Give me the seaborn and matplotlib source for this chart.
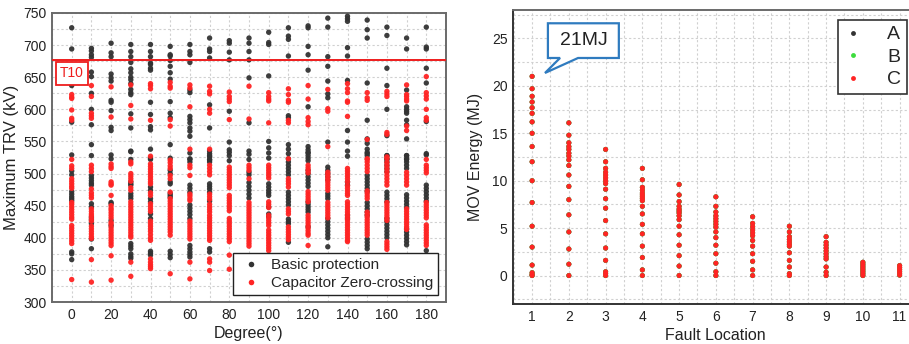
import matplotlib
matplotlib.use("Agg")
import matplotlib.pyplot as plt
import pandas as pd
import seaborn as sns
from matplotlib.ticker import MultipleLocator
from matplotlib.lines import Line2D
from matplotlib.patches import Polygon

# ---------------- data: left panel (Maximum TRV vs switching degree) ----------------
degrees = [0, 10, 20, 30, 40, 50, 60, 70, 80, 90, 100, 110, 120, 130, 140, 150, 160, 170, 180]
case_labels = ["Basic protection", "Capacitor Zero-crossing"]

basic_trv = [
    [727, 694, 637, 580, 529, 504, 498, 472, 468, 464, 461, 458, 378, 375, 366],
    [695, 691, 685, 681, 658, 651, 625, 600, 576, 545, 528, 497, 493, 489, 485, 482, 453, 448, 432, 428, 422, 398, 383],
    [703, 688, 682, 655, 649, 644, 614, 611, 598, 572, 567, 529, 523, 455, 453, 427, 419],
    [701, 690, 682, 673, 663, 657, 650, 646, 640, 631, 626, 623, 593, 571, 535, 534, 522, 487, 484, 482, 469, 465, 461, 391, 387, 383, 375, 371, 368],
    [701, 690, 682, 672, 670, 664, 661, 611, 592, 573, 568, 538, 524, 522, 479, 474, 461, 456, 437, 430, 379, 376, 373],
    [698, 685, 683, 676, 667, 657, 647, 612, 594, 587, 545, 524, 505, 500, 487, 484, 469, 466, 463, 379, 374, 369],
    [701, 690, 685, 673, 630, 626, 589, 584, 579, 571, 566, 558, 532, 523, 522, 518, 482, 477, 471, 451, 446, 441, 436, 430, 388, 383, 378, 374, 370],
    [711, 694, 690, 680, 607, 571, 535, 531, 528, 526, 522, 521, 518, 484, 480, 476, 471, 457, 383, 378],
    [707, 703, 689, 677, 597, 549, 537, 533, 528, 520],
    [711, 703, 690, 677, 649, 579, 535, 530, 522, 502, 498, 486, 480, 474, 468, 462],
    [720, 704, 701, 652, 550, 540, 532, 524, 484, 479, 474, 470, 466, 448, 437, 433],
    [727, 714, 709, 683, 590, 587, 545, 538, 531, 523, 518, 513, 508, 503, 498, 471, 466, 461, 456, 451, 429, 425, 422, 393],
    [730, 727, 698, 685, 661, 604, 542, 537, 533, 532, 528, 524, 520, 505, 500, 495, 490, 485, 480, 456, 452, 448, 444, 440, 417],
    [742, 728, 682, 667, 644, 624, 618, 549, 510, 505, 500, 495, 490, 469, 465, 461, 430, 425, 420, 415, 410, 405, 400, 386],
    [745, 741, 737, 696, 683, 645, 567, 549, 535, 527, 487, 482, 435, 430],
    [739, 724, 711, 641, 583, 554, 547, 538, 533, 531, 528, 497, 492, 487, 482, 477, 472, 455, 450, 445, 440, 435, 398, 393, 388, 383],
    [728, 715, 664, 637, 600, 559, 528, 528, 523, 522, 518, 513, 508, 503, 471, 466, 461, 456, 430, 425, 420, 415, 410, 405, 400],
    [711, 694, 630, 604, 600, 597, 594, 583, 576, 554, 528, 528, 523, 522, 518, 513, 508, 467, 462, 457, 452, 447, 414, 409, 404, 399, 394, 389],
    [728, 697, 694, 664, 641, 581, 531, 529, 482, 477, 472, 467, 462, 457, 380],
]

capzc_trv = [
    [623, 619, 617, 599, 586, 583, 522, 512, 508, 492, 488, 484, 480, 477, 455, 452, 448, 444, 440, 436, 432, 429, 419, 415, 411, 407, 403, 399, 395, 391, 335],
    [637, 620, 594, 590, 586, 513, 508, 503, 476, 470, 466, 462, 445, 441, 437, 434, 430, 426, 418, 414, 410, 406, 402, 399, 366, 331],
    [635, 588, 515, 511, 508, 487, 484, 482, 466, 450, 446, 443, 439, 435, 431, 424, 421, 416, 412, 408, 404, 400, 396, 392, 388, 372, 334],
    [638, 606, 585, 518, 515, 500, 496, 492, 488, 478, 474, 456, 452, 448, 444, 440, 436, 432, 428, 424, 420, 416, 412, 408, 404, 401, 362, 340],
    [640, 637, 632, 583, 527, 515, 511, 507, 503, 499, 495, 491, 487, 484, 470, 466, 453, 449, 445, 441, 426, 422, 418, 414, 410, 405, 400, 396, 367, 362, 358, 355, 352],
    [642, 636, 633, 584, 574, 521, 517, 512, 508, 497, 492, 471, 461, 457, 453, 449, 445, 441, 437, 433, 429, 425, 421, 417, 413, 409, 404, 344],
    [638, 633, 604, 538, 513, 509, 497, 468, 465, 461, 458, 426, 422, 418, 414, 410, 406, 402, 398, 362, 336],
    [636, 628, 624, 600, 594, 538, 513, 508, 503, 498, 468, 464, 460, 452, 448, 444, 440, 435, 431, 427, 423, 419, 415, 411, 407, 403, 399, 396, 367, 362, 349],
    [627, 620, 616, 612, 584, 510, 506, 502, 498, 494, 490, 486, 482, 478, 466, 462, 458, 454, 450, 446, 442, 430, 426, 422, 418, 414, 410, 406, 402, 398, 394, 373, 351],
    [636, 585, 513, 509, 505, 492, 455, 451, 447, 443, 439, 435, 431, 427, 423, 419, 415, 411, 407, 403, 399, 395, 391, 387],
    [626, 620, 616, 613, 579, 513, 509, 505, 501, 497, 493, 456, 452, 447, 435, 431, 427, 423, 419, 412, 408, 404, 400, 396, 392, 388, 384, 380],
    [632, 623, 614, 611, 583, 579, 523, 492, 488, 484, 479, 445, 441, 437, 417, 413, 409, 405, 401, 397],
    [637, 616, 587, 581, 576, 513, 509, 505, 501, 472, 468, 464, 460, 456, 435, 431, 427, 423, 419, 415, 411, 407, 404, 388],
    [631, 601, 597, 542, 502, 498, 494, 490, 486, 482, 478, 474, 455, 451, 447, 443, 439, 435, 431],
    [640, 632, 626, 613, 611, 589, 508, 504, 500, 496, 492, 487, 481, 477, 473, 469, 466, 456, 452, 448, 444, 440, 436, 432, 428, 424, 420, 416, 412, 408, 404, 400, 396, 394],
    [626, 618, 614, 553, 523, 522, 518, 513, 508, 503, 473, 469, 465, 461, 440, 436, 432, 428, 424, 420, 416, 412, 408, 404],
    [628, 624, 620, 564, 561, 526, 523, 517, 512, 507, 502, 497, 492, 487, 482, 455, 451, 447, 443, 439, 435, 431, 427, 394, 390, 386, 382],
    [638, 623, 620, 616, 613, 574, 567, 502, 497, 492, 487, 482, 445, 441, 437, 433, 429, 425, 421, 417, 413],
    [651, 626, 621, 616, 600, 587, 583, 522, 513, 509, 505, 501, 455, 451, 447, 443, 439, 435, 431, 420, 416, 412, 408, 404, 400, 396, 392, 388],
]

t10_limit = 677
t10_label = "T10"

# ---------------- data: right panel (MOV energy vs fault location) ----------------
fault_locations = [1, 2, 3, 4, 5, 6, 7, 8, 9, 10, 11]
phases = ["A", "B", "C"]
mov_energy = [
    [21.0, 19.7, 18.9, 18.3, 17.7, 17.1, 16.2, 15.0, 13.6, 12.0, 10.0, 7.7, 5.2, 3.0, 1.1, 0.3, 0.1, 0.0],
    [16.1, 14.8, 14.0, 13.6, 13.3, 12.9, 12.6, 12.2, 11.6, 10.6, 9.4, 8.0, 6.4, 4.6, 2.8, 1.2, 0.0],
    [13.3, 12.0, 11.3, 10.9, 10.6, 10.3, 10.0, 9.7, 9.1, 8.1, 7.1, 5.8, 4.4, 2.9, 1.6, 0.4, 0.2, 0.0],
    [11.3, 10.1, 9.3, 9.0, 8.7, 8.5, 8.3, 8.1, 7.9, 7.3, 6.5, 5.4, 4.4, 3.1, 1.9, 0.6, 0.0],
    [9.6, 8.5, 7.8, 7.3, 7.0, 6.8, 6.6, 6.3, 5.9, 5.2, 4.3, 3.2, 2.1, 1.0, 0.0],
    [8.3, 7.3, 6.7, 6.3, 6.0, 5.7, 5.4, 5.1, 4.6, 4.0, 3.2, 2.3, 1.3, 0.4, 0.0],
    [6.2, 5.5, 5.15, 4.8, 4.5, 4.2, 3.7, 3.1, 2.3, 1.5, 0.6, 0.0],
    [5.2, 4.6, 4.1, 3.8, 3.55, 3.3, 3.1, 2.4, 1.6, 0.9, 0.2, 0.0],
    [4.1, 3.5, 3.2, 2.9, 2.6, 2.3, 2.0, 1.75, 0.9, 0.35, 0.0],
    [1.4, 1.2, 1.0, 0.8, 0.6, 0.4, 0.2, 0.0],
    [1.05, 0.85, 0.65, 0.45, 0.25, 0.05],
]
peak_value = 21.0
peak_label = "21MJ"

# ---------------- build tables ----------------
rows = []
for ci, vals in enumerate([basic_trv, capzc_trv]):
    for d, col in zip(degrees, vals):
        for v in col:
            rows.append((d, v, case_labels[ci]))
df_left = pd.DataFrame(rows, columns=["Degree", "TRV", "Case"])

rows = []
for ph in phases:
    for loc, col in zip(fault_locations, mov_energy):
        for v in col:
            rows.append((loc, v, ph))
df_right = pd.DataFrame(rows, columns=["Location", "Energy", "Phase"])

# ---------------- style ----------------
sns.set_theme(style="white")
plt.rcParams["font.family"] = ["Liberation Sans", "DejaVu Sans"]

BLACK = "#333333"
RED = "#ff2424"
GREEN = "#3ddc3d"
GRID = "#d0d0d0"
SPINE = "#6a6a6a"
BLUE = "#2f7bbf"

fig = plt.figure(figsize=(9.09, 3.44), dpi=100)
ax1 = fig.add_axes([52 / 909, 42 / 344, 394 / 909, 289 / 344])
ax2 = fig.add_axes([513 / 909, 40 / 344, 405 / 909, 294 / 344])

# ---------------- left panel ----------------
sns.scatterplot(data=df_left, x="Degree", y="TRV", hue="Case",
                palette={case_labels[0]: BLACK, case_labels[1]: RED},
                s=15, linewidth=0, alpha=0.95, ax=ax1, legend=False, zorder=3)
ax1.set_xlim(-10, 190)
ax1.set_ylim(300, 750)
ax1.xaxis.set_major_locator(MultipleLocator(20))
ax1.xaxis.set_minor_locator(MultipleLocator(10))
ax1.yaxis.set_major_locator(MultipleLocator(50))
ax1.yaxis.set_minor_locator(MultipleLocator(25))
ax1.grid(which="both", color=GRID, linestyle=(0, (2, 2)), linewidth=0.8)
ax1.set_axisbelow(True)
ax1.axhline(t10_limit, color="#ee1c1c", lw=1.4, zorder=4)
ax1.text(0, 656, t10_label, color="#ee1c1c", fontsize=10, ha="center", va="center", zorder=6,
         bbox=dict(boxstyle="square,pad=0.3", fc="white", ec="#ee1c1c", lw=1.3))
ax1.set_xlabel("Degree(°)", fontsize=11.5, color="#222222", labelpad=3)
ax1.set_ylabel("Maximum TRV (kV)", fontsize=12, color="#222222", labelpad=3)
handles = [Line2D([], [], ls="", marker="o", ms=4, mfc=BLACK, mec="none"),
           Line2D([], [], ls="", marker="o", ms=4, mfc=RED, mec="none")]
leg1 = ax1.legend(handles, case_labels, loc="lower right", fontsize=11, frameon=True,
                  fancybox=False, edgecolor="#222222", framealpha=1,
                  bbox_to_anchor=(0.98, 0.024), borderaxespad=0.0,
                  handletextpad=0.4, labelspacing=0.3, borderpad=0.3, handlelength=1.8)
leg1.get_frame().set_linewidth(1.0)
leg1.set_zorder(10)

# ---------------- right panel ----------------
sns.scatterplot(data=df_right, x="Location", y="Energy", hue="Phase",
                palette={"A": BLACK, "B": GREEN, "C": RED},
                s=13, linewidth=0, ax=ax2, legend=False, zorder=3)
ax2.set_xlim(0.48, 11.5)
ax2.set_ylim(-3, 28)
ax2.xaxis.set_major_locator(MultipleLocator(1))
ax2.xaxis.set_minor_locator(MultipleLocator(0.5))
ax2.yaxis.set_major_locator(MultipleLocator(5))
ax2.yaxis.set_minor_locator(MultipleLocator(2.5))
ax2.grid(which="both", color=GRID, linestyle=(0, (2, 2)), linewidth=0.8)
ax2.set_axisbelow(True)
ax2.set_xlabel("Fault Location", fontsize=11.5, color="#222222", labelpad=3)
ax2.set_ylabel("MOV Energy (MJ)", fontsize=11.5, color="#222222", labelpad=6)

# callout box with tail pointing at the peak value of location 1
box_x0, box_x1, box_y0, box_y1 = 1.43, 3.36, 22.94, 26.6
tip = (fault_locations[0] + 0.35, peak_value + 0.36)
callout = Polygon([(box_x0, box_y1), (box_x1, box_y1), (box_x1, box_y0), (2.25, box_y0),
                   tip, (1.76, box_y0), (box_x0, box_y0)], closed=True,
                  fc="white", ec=BLUE, lw=1.6, zorder=8, joinstyle="miter")
ax2.add_patch(callout)
ax2.text((box_x0 + box_x1) / 2, (box_y0 + box_y1) / 2, peak_label, fontsize=14,
         color="#222222", ha="center", va="center", zorder=9)

handles2 = [Line2D([], [], ls="", marker="o", ms=3.5, mfc=c, mec="none") for c in (BLACK, GREEN, RED)]
leg2 = ax2.legend(handles2, phases, loc="upper right", fontsize=14, frameon=True,
                  fancybox=False, edgecolor="#333333", framealpha=1,
                  bbox_to_anchor=(0.973, 0.966), borderaxespad=0.0,
                  handletextpad=1.3, labelspacing=0.25, borderpad=0.3, handlelength=0.95)
leg2.get_frame().set_linewidth(1.2)

for ax in (ax1, ax2):
    ax.tick_params(axis="both", which="both", length=0, labelsize=10, labelcolor="#222222", pad=4)
    for sp in ax.spines.values():
        sp.set_color(SPINE)
        sp.set_linewidth(1.4)

ax2.spines["left"].set_color("#333333")
ax2.spines["bottom"].set_color("#333333")

fig.savefig("out.png", dpi=100)
